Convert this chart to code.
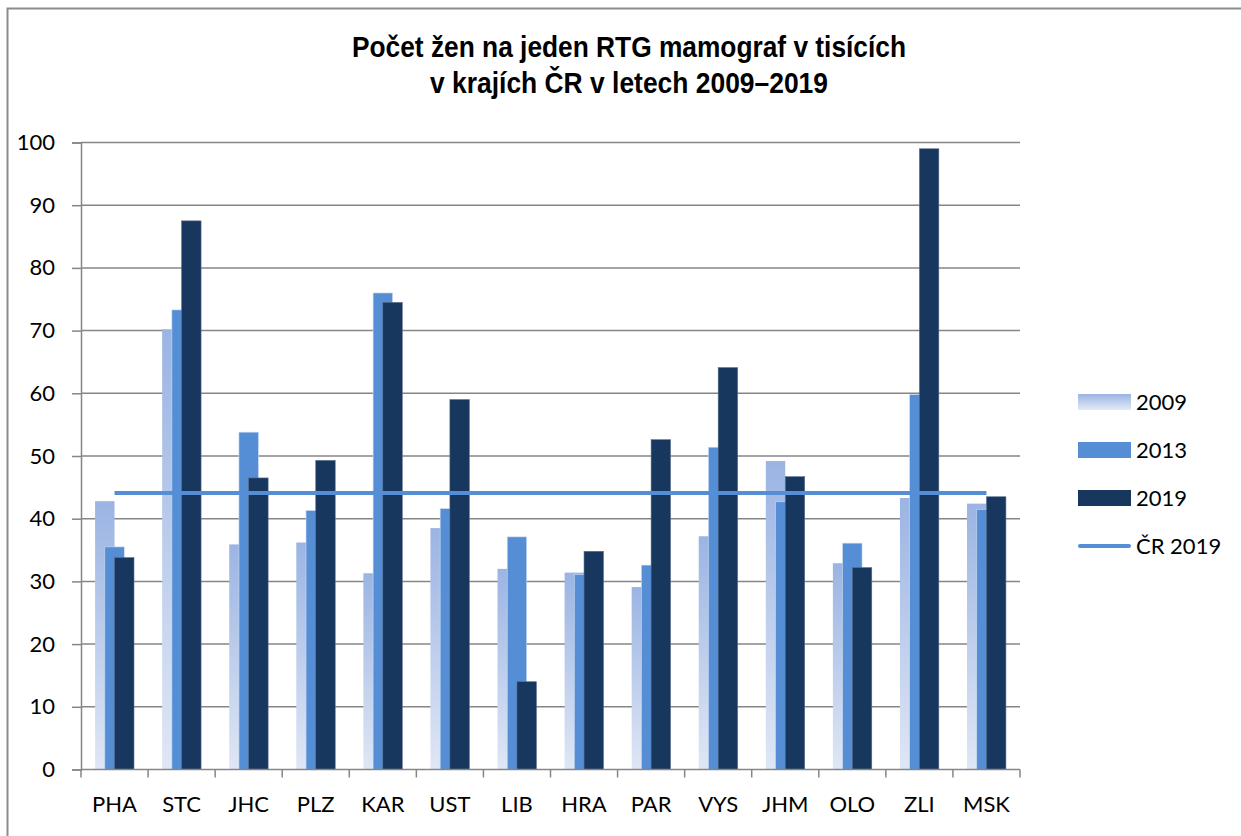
<!DOCTYPE html>
<html>
<head>
<meta charset="utf-8">
<script src="https://cdn.jsdelivr.net/npm/d3@7"></script>
<style>
  body { margin: 0; background: #fff; }
  text { font-family: Lato, 'Open Sans', sans-serif; fill: #000; }
</style>
</head>
<body>
<div id="chart"></div>
<script>
// regions (kraje)
let regions = ['PHA', 'STC', 'JHC', 'PLZ', 'KAR', 'UST', 'LIB', 'HRA', 'PAR', 'VYS', 'JHM', 'OLO', 'ZLI', 'MSK']
let years = ['2009', '2013', '2019']
let values2009 = [42.8, 70.2, 35.9, 36.2, 31.3, 38.5, 32.0, 31.4, 29.1, 37.2, 49.2, 32.9, 43.3, 42.4]
let values2013 = [35.5, 73.3, 53.8, 41.3, 76.0, 41.6, 37.1, 31.1, 32.6, 51.4, 42.7, 36.1, 59.8, 41.5]
let values2019 = [33.8, 87.5, 46.5, 49.3, 74.5, 59.0, 14.0, 34.8, 52.6, 64.1, 46.7, 32.2, 99.0, 43.5]
let crValues = [44.1, 44.1, 44.1, 44.1, 44.1, 44.1, 44.1, 44.1, 44.1, 44.1, 44.1, 44.1, 44.1, 44.1]
let yTicks = [0, 10, 20, 30, 40, 50, 60, 70, 80, 90, 100]
let titleLines = ['Počet žen na jeden RTG mamograf v tisících', 'v krajích ČR v letech 2009–2019']

let width = 1241
let height = 836
let plot = { left: 81, right: 1020, top: 142.5, bottom: 769.5 }
let gridColor = '#868686'

let svg = d3
  .select('#chart')
  .append('svg')
  .attr('width', width)
  .attr('height', height)

let defs = svg.append('defs')
let grad = defs
  .append('linearGradient')
  .attr('id', 'grad2009')
  .attr('x1', 0)
  .attr('y1', 0)
  .attr('x2', 0)
  .attr('y2', 1)
grad.append('stop').attr('offset', '0%').attr('stop-color', '#9bb4e3')
grad.append('stop').attr('offset', '100%').attr('stop-color', '#dfe7f5')

let legendGrad = defs
  .append('linearGradient')
  .attr('id', 'grad2009legend')
  .attr('x1', 0)
  .attr('y1', 0)
  .attr('x2', 0)
  .attr('y2', 1)
legendGrad.append('stop').attr('offset', '0%').attr('stop-color', '#9bb4e3')
legendGrad.append('stop').attr('offset', '100%').attr('stop-color', '#e3eaf7')

let fills = { '2009': 'url(#grad2009)', '2013': '#558ed5', '2019': '#17375e' }

// outer chart border (right and bottom edge fall off the page)
svg
  .append('rect')
  .attr('x', 7.5)
  .attr('y', 8.5)
  .attr('width', width + 20)
  .attr('height', height + 20)
  .attr('fill', 'none')
  .attr('stroke', '#8c8c8c')
  .attr('stroke-width', 2)

// title
svg
  .selectAll('.title')
  .data(titleLines)
  .enter()
  .append('text')
  .attr('class', 'title')
  .attr('x', 629)
  .attr('y', (d, i) => 57 + i * 36)
  .attr('text-anchor', 'middle')
  .attr('font-size', 29)
  .attr('font-weight', 'bold')
  .style('font-family', "'Liberation Sans Narrow', 'Liberation Sans', Arial, sans-serif")
  .attr('textLength', (d, i) => (i === 0 ? 554 : 398))
  .attr('lengthAdjust', 'spacingAndGlyphs')
  .text(d => d)

let xPositionScale = d3
  .scaleBand()
  .domain(regions)
  .range([plot.left, plot.right])
  .padding(0)

let yPositionScale = d3
  .scaleLinear()
  .domain([0, 100])
  .range([plot.bottom, plot.top])

// gridlines
svg
  .append('g')
  .attr('class', 'grid')
  .selectAll('line')
  .data(yTicks.filter(d => d > 0))
  .enter()
  .append('line')
  .attr('x1', plot.left)
  .attr('x2', plot.right)
  .attr('y1', d => yPositionScale(d))
  .attr('y2', d => yPositionScale(d))
  .attr('stroke', gridColor)
  .attr('stroke-width', 1.5)

// bars
let barWidth = xPositionScale.bandwidth() * 0.29
let series = [
  { year: '2009', values: values2009 },
  { year: '2013', values: values2013 },
  { year: '2019', values: values2019 }
]

series.forEach((s, si) => {
  svg
    .append('g')
    .attr('class', 'bars bars-' + s.year)
    .selectAll('rect')
    .data(s.values)
    .enter()
    .append('rect')
    .attr('x', (d, i) => {
      let center = xPositionScale(regions[i]) + xPositionScale.bandwidth() / 2
      return center - barWidth + si * barWidth / 2
    })
    .attr('y', d => yPositionScale(d))
    .attr('width', barWidth)
    .attr('height', d => yPositionScale(0) - yPositionScale(d))
    .attr('fill', fills[s.year])
    .attr('stroke', s.year === '2009' ? 'none' : s.year === '2013' ? '#c9dbf2' : '#5a6f8c')
    .attr('stroke-width', 0.6)
})

// y axis
let yAxis = d3
  .axisLeft(yPositionScale)
  .tickValues(yTicks)
  .tickSize(9)
  .tickPadding(17)
let yAxisG = svg
  .append('g')
  .attr('class', 'axis y-axis')
  .attr('transform', 'translate(' + plot.left + ',0)')
  .call(yAxis)
yAxisG.select('.domain').attr('stroke', gridColor).attr('stroke-width', 1.5)
yAxisG.selectAll('.tick line').attr('stroke', gridColor).attr('stroke-width', 1.5)
yAxisG
  .selectAll('.tick text')
  .attr('font-size', 22)
  .style('font-family', 'Lato, sans-serif')

// x axis: ticks between categories
let xAxisG = svg
  .append('g')
  .attr('class', 'axis x-axis')
xAxisG
  .append('line')
  .attr('x1', plot.left)
  .attr('x2', plot.right)
  .attr('y1', yPositionScale(0))
  .attr('y2', yPositionScale(0))
  .attr('stroke', gridColor)
  .attr('stroke-width', 1.5)
let boundaries = regions.map(r => xPositionScale(r)).concat([plot.right])
xAxisG
  .selectAll('.xtick')
  .data(boundaries)
  .enter()
  .append('line')
  .attr('class', 'xtick')
  .attr('x1', d => d)
  .attr('x2', d => d)
  .attr('y1', yPositionScale(0))
  .attr('y2', yPositionScale(0) + 8)
  .attr('stroke', gridColor)
  .attr('stroke-width', 1.5)
xAxisG
  .selectAll('.xlabel')
  .data(regions)
  .enter()
  .append('text')
  .attr('class', 'xlabel')
  .attr('x', d => xPositionScale(d) + xPositionScale.bandwidth() / 2)
  .attr('y', 812)
  .attr('text-anchor', 'middle')
  .attr('font-size', 22)
  .text(d => d)

// ČR 2019 line
let line = d3
  .line()
  .x((d, i) => xPositionScale(regions[i]) + xPositionScale.bandwidth() / 2)
  .y(d => yPositionScale(d))

svg
  .append('path')
  .datum(crValues)
  .attr('d', line)
  .attr('fill', 'none')
  .attr('stroke', '#558ed5')
  .attr('stroke-width', 4)

// legend
let legendItems = years.concat(['ČR 2019'])
let legend = svg
  .append('g')
  .attr('class', 'legend')
  .attr('transform', 'translate(1078,402)')
legend
  .selectAll('.swatch')
  .data(years)
  .enter()
  .append('rect')
  .attr('class', 'swatch')
  .attr('x', 0)
  .attr('y', (d, i) => i * 48 - 8)
  .attr('width', 53)
  .attr('height', 16)
  .attr('fill', d => (d === '2009' ? 'url(#grad2009legend)' : fills[d]))
legend
  .append('line')
  .attr('x1', 2)
  .attr('x2', 51)
  .attr('y1', 3 * 48)
  .attr('y2', 3 * 48)
  .attr('stroke', '#558ed5')
  .attr('stroke-width', 4)
  .attr('stroke-linecap', 'round')
legend
  .selectAll('.legend-label')
  .data(legendItems)
  .enter()
  .append('text')
  .attr('class', 'legend-label')
  .attr('x', 58)
  .attr('y', (d, i) => i * 48)
  .attr('dy', '0.35em')
  .attr('font-size', 22)
  .text(d => d)
</script>
</body>
</html>
